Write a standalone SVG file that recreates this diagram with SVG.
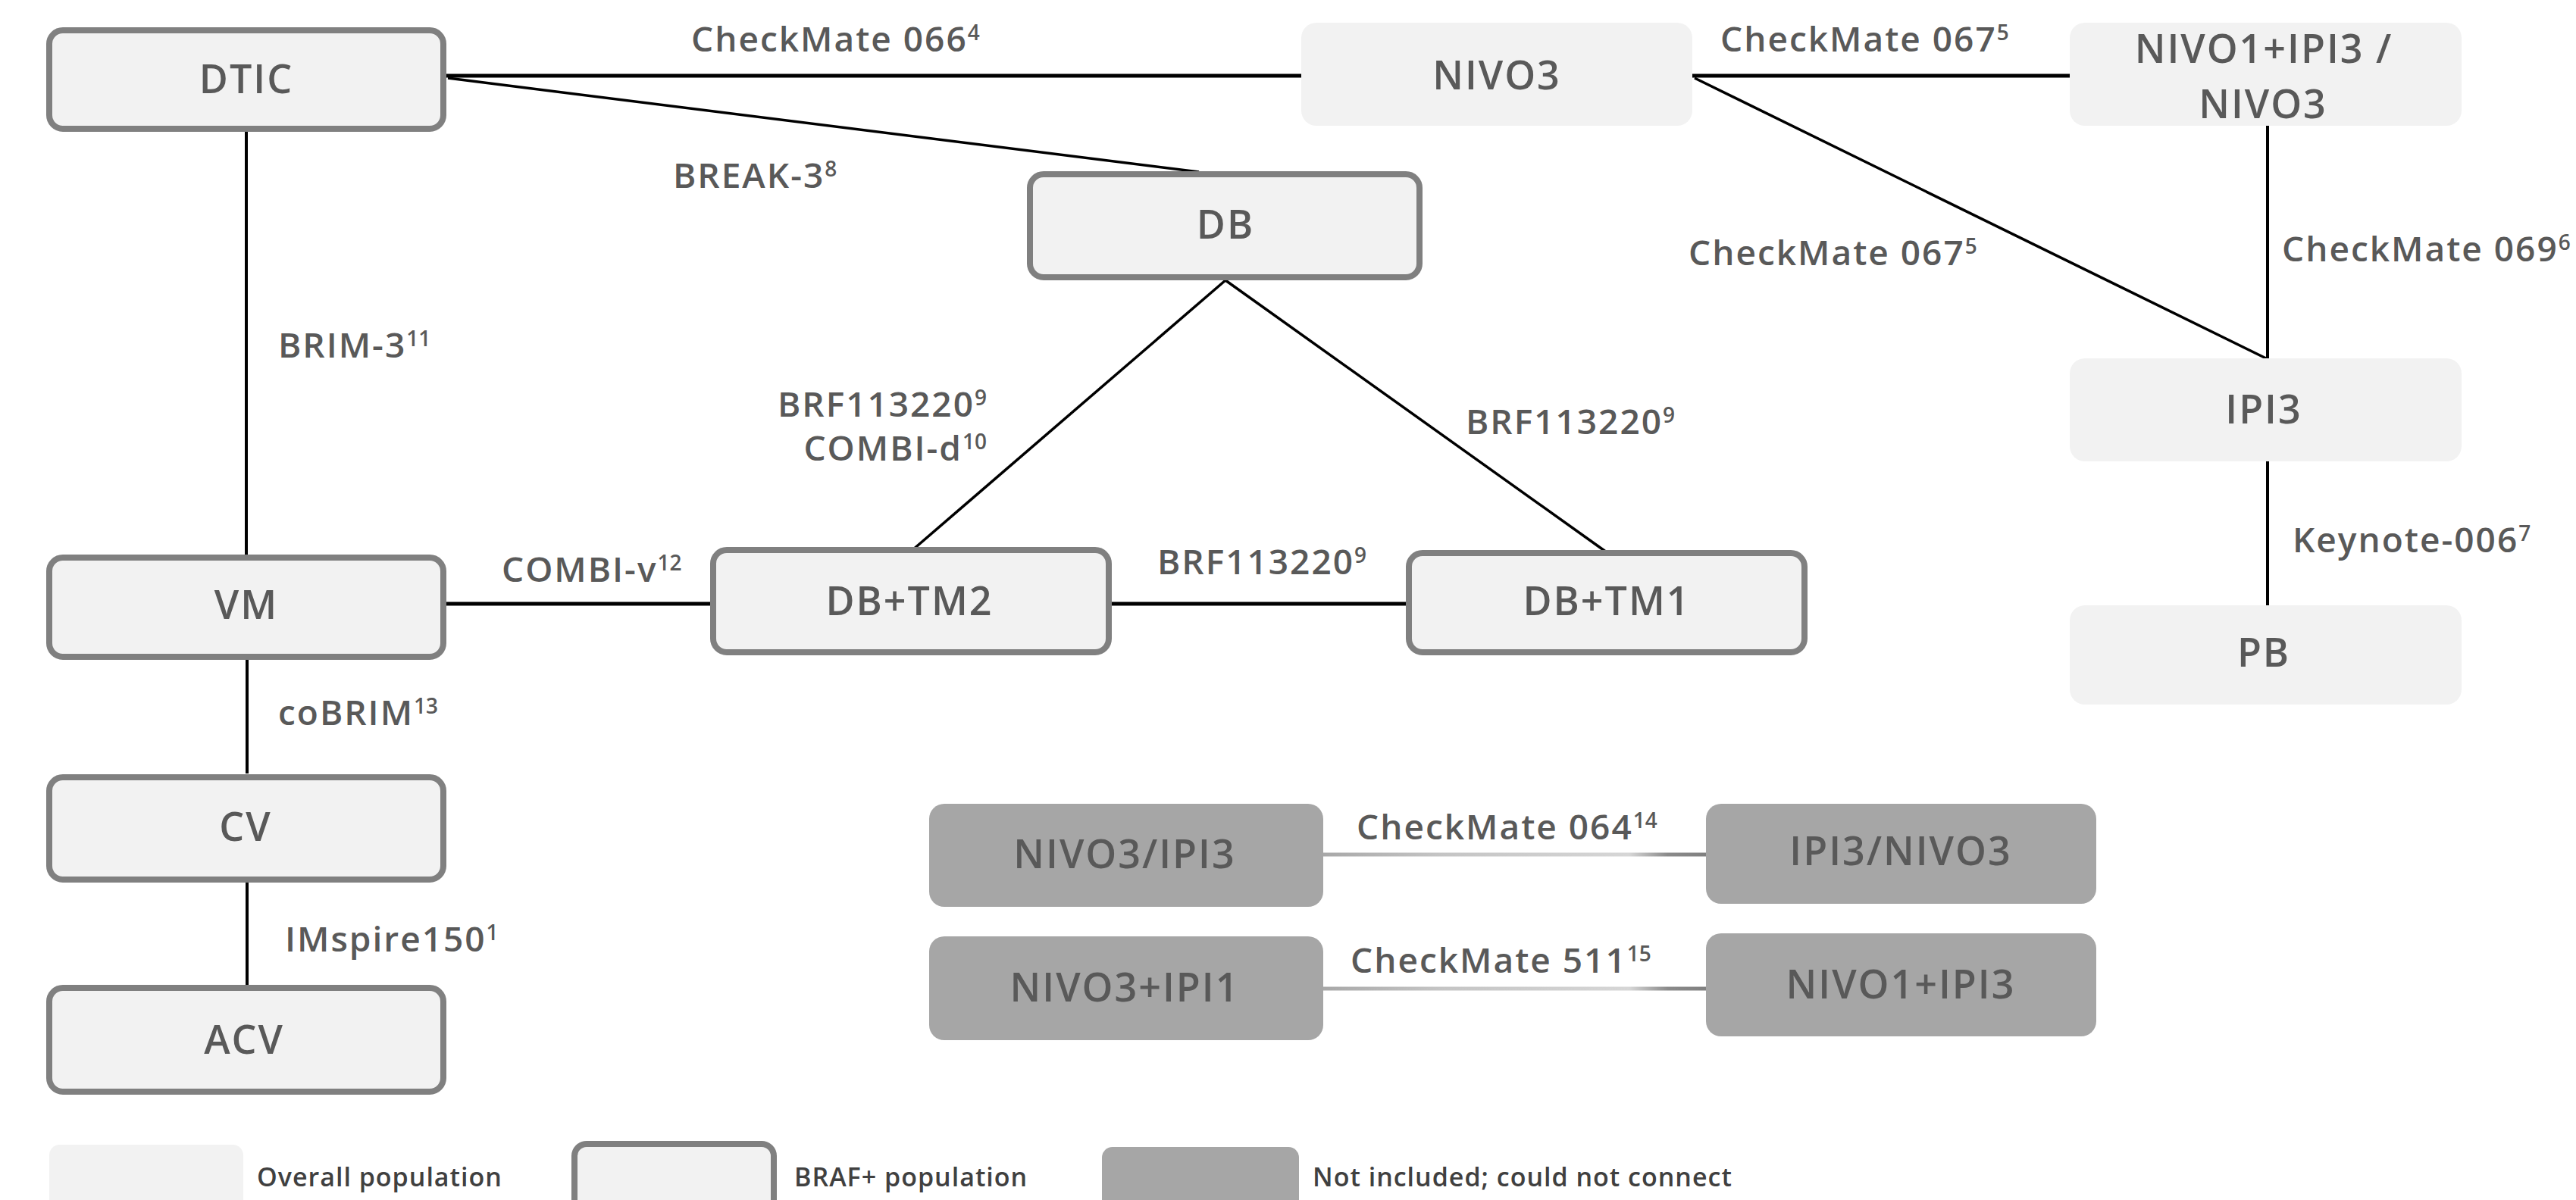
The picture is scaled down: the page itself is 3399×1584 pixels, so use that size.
<svg xmlns="http://www.w3.org/2000/svg" width="3399" height="1584" viewBox="0 0 3399 1584">
<defs>
<style>
.bord{fill:#f2f2f2;stroke:#808080;stroke-width:8}
.lite{fill:#f2f2f2}
.dark{fill:#a6a6a6}
.nt{font-family:"Open Sans","Noto Sans",sans-serif;font-size:52px;font-weight:600;fill:#595959;text-anchor:middle;letter-spacing:2px}
.lb{font-family:"Open Sans","Noto Sans",sans-serif;font-size:46px;font-weight:600;fill:#595959;letter-spacing:2px}
.lg{font-family:"Open Sans","Noto Sans",sans-serif;font-size:34px;font-weight:600;fill:#404040;letter-spacing:1px}
.sup{font-size:28px;letter-spacing:0}
.c{stroke:#000;stroke-width:4;fill:none}
.h{stroke-width:5}
.d{stroke-width:3.5}
.g{stroke:url(#gg);stroke-width:5;fill:none}
</style>
<linearGradient id="gg" gradientUnits="userSpaceOnUse" x1="1746" y1="0" x2="2251" y2="0">
<stop offset="0" stop-color="#a8a8a8"/>
<stop offset="0.3" stop-color="#c4c4c4"/>
<stop offset="0.8" stop-color="#d6d6d6"/>
<stop offset="0.9" stop-color="#8a8a8a"/>
<stop offset="1" stop-color="#808080"/>
</linearGradient>
</defs>
<rect width="3399" height="1584" fill="#fff"/>
<g id="connectors">
<line class="c h" x1="589" y1="100" x2="1717" y2="100"/>
<line class="c d" x1="591" y1="103" x2="1582" y2="227"/>
<line class="c h" x1="2233" y1="100" x2="2731" y2="100"/>
<line class="c d" x1="2236" y1="103" x2="2990" y2="473"/>
<line class="c" x1="2992" y1="166" x2="2992" y2="473"/>
<line class="c" x1="2992" y1="609" x2="2992" y2="799"/>
<line class="c" x1="325" y1="174" x2="325" y2="732"/>
<line class="c" x1="326" y1="871" x2="326" y2="1021" stroke="#333"/>
<line class="c" x1="326" y1="1165" x2="326" y2="1300"/>
<line class="c h" x1="589" y1="797" x2="937" y2="797"/>
<line class="c h" x1="1467" y1="797" x2="1855" y2="797"/>
<line class="c d" x1="1617" y1="370" x2="1204" y2="726"/>
<line class="c d" x1="1617" y1="370" x2="2120" y2="729"/>
<line class="g" x1="1746" y1="1128" x2="2251" y2="1128"/>
<line class="g" x1="1746" y1="1305" x2="2251" y2="1305"/>
</g>
<g id="labels">
<text class="lb" x="912" y="68">CheckMate 066<tspan class="sup" dy="-15">4</tspan></text>
<text class="lb" x="888" y="248">BREAK-3<tspan class="sup" dy="-15">8</tspan></text>
<text class="lb" x="2270" y="68">CheckMate 067<tspan class="sup" dy="-15">5</tspan></text>
<text class="lb" x="2228" y="350">CheckMate 067<tspan class="sup" dy="-15">5</tspan></text>
<text class="lb" x="3011" y="345">CheckMate 069<tspan class="sup" dy="-15">6</tspan></text>
<text class="lb" x="367" y="472">BRIM-3<tspan class="sup" dy="-15">11</tspan></text>
<text class="lb" x="1302" y="550" text-anchor="end">BRF113220<tspan class="sup" dy="-15">9</tspan></text>
<text class="lb" x="1302" y="608" text-anchor="end">COMBI-d<tspan class="sup" dy="-15">10</tspan></text>
<text class="lb" x="1934" y="573">BRF113220<tspan class="sup" dy="-15">9</tspan></text>
<text class="lb" x="662" y="768">COMBI-v<tspan class="sup" dy="-15">12</tspan></text>
<text class="lb" x="1527" y="758">BRF113220<tspan class="sup" dy="-15">9</tspan></text>
<text class="lb" x="367" y="957">coBRIM<tspan class="sup" dy="-15">13</tspan></text>
<text class="lb" x="376" y="1256">IMspire150<tspan class="sup" dy="-15">1</tspan></text>
<text class="lb" x="3025" y="729">Keynote-006<tspan class="sup" dy="-15">7</tspan></text>
<text class="lb" x="1790" y="1108">CheckMate 064<tspan class="sup" dy="-15">14</tspan></text>
<text class="lb" x="1782" y="1284">CheckMate 511<tspan class="sup" dy="-15">15</tspan></text>
</g>
<g id="node-DTIC"><rect class="bord" x="65" y="40" width="520" height="130" rx="18"/><text class="nt" x="325" y="123">DTIC</text></g>
<g id="node-NIVO3"><rect class="lite" x="1717" y="30" width="516" height="136" rx="20"/><text class="nt" x="1975" y="118">NIVO3</text></g>
<g id="node-NIVO1IPI3-NIVO3"><rect class="lite" x="2731" y="30" width="517" height="136" rx="20"/><text class="nt" x="2987" y="83">NIVO1+IPI3 /</text><text class="nt" x="2986" y="156">NIVO3</text></g>
<g id="node-DB"><rect class="bord" x="1359" y="230" width="514" height="136" rx="18"/><text class="nt" x="1617" y="315">DB</text></g>
<g id="node-IPI3"><rect class="lite" x="2731" y="473" width="517" height="136" rx="20"/><text class="nt" x="2987" y="559">IPI3</text></g>
<g id="node-PB"><rect class="lite" x="2731" y="799" width="517" height="131" rx="20"/><text class="nt" x="2987" y="880">PB</text></g>
<g id="node-VM"><rect class="bord" x="65" y="736" width="520" height="131" rx="18"/><text class="nt" x="325" y="817">VM</text></g>
<g id="node-DBTM2"><rect class="bord" x="941" y="726" width="522" height="135" rx="18"/><text class="nt" x="1200" y="812">DB+TM2</text></g>
<g id="node-DBTM1"><rect class="bord" x="1859" y="730" width="522" height="131" rx="18"/><text class="nt" x="2120" y="812">DB+TM1</text></g>
<g id="node-CV"><rect class="bord" x="65" y="1026" width="520" height="135" rx="18"/><text class="nt" x="324" y="1110">CV</text></g>
<g id="node-ACV"><rect class="bord" x="65" y="1304" width="520" height="137" rx="18"/><text class="nt" x="322" y="1391">ACV</text></g>
<g id="node-NIVO3-IPI3"><rect class="dark" x="1226" y="1061" width="520" height="136" rx="20"/><text class="nt" x="1484" y="1146">NIVO3/IPI3</text></g>
<g id="node-IPI3-NIVO3"><rect class="dark" x="2251" y="1061" width="515" height="132" rx="20"/><text class="nt" x="2508" y="1142">IPI3/NIVO3</text></g>
<g id="node-NIVO3IPI1"><rect class="dark" x="1226" y="1236" width="520" height="137" rx="20"/><text class="nt" x="1484" y="1322">NIVO3+IPI1</text></g>
<g id="node-NIVO1IPI3"><rect class="dark" x="2251" y="1232" width="515" height="136" rx="20"/><text class="nt" x="2508" y="1318">NIVO1+IPI3</text></g>
<g id="legend">
<rect class="lite" x="65" y="1511" width="256" height="100" rx="14"/>
<text class="lg" x="339" y="1566">Overall population</text>
<rect class="bord" x="758" y="1510" width="263" height="100" rx="16"/>
<text class="lg" x="1048" y="1566">BRAF+ population</text>
<rect class="dark" x="1454" y="1514" width="260" height="100" rx="14"/>
<text class="lg" x="1732" y="1566">Not included; could not connect</text>
</g>
</svg>
